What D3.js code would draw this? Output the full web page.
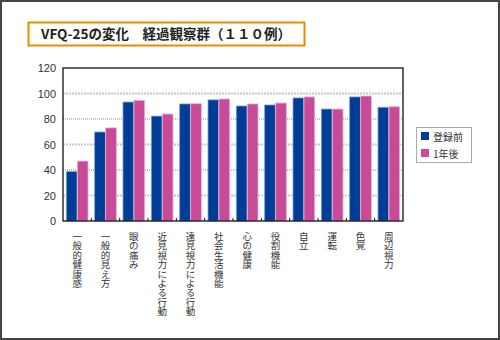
<!DOCTYPE html>
<html><head><meta charset="utf-8">
<script src="https://cdn.jsdelivr.net/npm/d3@7"></script>
<style>body{margin:0;background:#fff}svg{display:block}</style>
</head><body>
<svg id="c" width="500" height="340"></svg>
<script>
const categories = ["一般的健康感","一般的見え方","眼の痛み","近見視力による行動","遠見視力による行動","社会生活機能","心の健康","役割機能","自立","運転","色覚","周辺視力"];
const seriesNames = ["登録前","1年後"];
const before = [38.7,69.8,93.3,82.3,91.8,95.0,90.2,91.0,96.5,87.8,97.3,89.2];
const after  = [47.0,73.0,94.6,83.9,92.0,95.7,91.8,92.5,97.3,87.8,98.0,89.6];
const yTicks = [0,20,40,60,80,100,120];
const title = "VFQ-25の変化　経過観察群（１１０例）";

const svg = d3.select("#c");
const colors = ["#003d96","#c84b97"];
const strokes = ["#7f9fd0","#eab0d2"];
const jp = "'Noto Sans CJK JP', sans-serif";

svg.append("rect").attr("x",1).attr("y",1).attr("width",498).attr("height",338)
  .attr("fill","#fff").attr("stroke","#444").attr("stroke-width",2);

// title
svg.append("rect").attr("x",28.5).attr("y",22.5).attr("width",276).attr("height",23)
  .attr("fill","#fff").attr("stroke","#ef8a00").attr("stroke-width",2);
svg.append("text").attr("x",166).attr("y",39).attr("text-anchor","middle")
  .attr("font-family",jp).attr("font-weight","bold").attr("font-size",13.5).attr("fill","#222")
  .text(title);

const L=63,R=403,T=68,B=221;
const x = d3.scaleBand().domain(categories).range([L,R]).paddingInner(0.235).paddingOuter(0.1175);
const y = d3.scaleLinear().domain([0,120]).range([B,T]);

// grid
yTicks.filter(t=>t>0&&t<120).forEach(t=>{
  const light = (t/20)%2===1;
  svg.append("line").attr("x1",L).attr("x2",R).attr("y1",y(t)).attr("y2",y(t))
    .attr("stroke", light?"#c8c8c8":"#8a8a8a").attr("stroke-width", light?2:1)
    .attr("stroke-dasharray", light?"2,1":"1,1");
});

// bars
const inner = d3.scaleBand().domain([0,1]).range([0,x.bandwidth()]).paddingInner(0.03);
const g = svg.append("g");
[before,after].forEach((vals,si)=>{
  g.selectAll(".b"+si).data(categories).enter().append("rect")
    .attr("x",d=>x(d)+inner(si)).attr("width",inner.bandwidth())
    .attr("y",(d,i)=>y(vals[i])).attr("height",(d,i)=>B-y(vals[i]))
    .attr("fill",colors[si]).attr("stroke",strokes[si]).attr("stroke-width",0.8);
});

// frame
svg.append("rect").attr("x",L).attr("y",T).attr("width",R-L).attr("height",B-T)
  .attr("fill","none").attr("stroke","#111").attr("stroke-width",1.3);

// band boundary ticks
const step = x.step();
d3.range(1,categories.length).forEach(i=>{
  const xx = L + step*i;
  svg.append("line").attr("x1",xx).attr("x2",xx).attr("y1",B).attr("y2",B-3)
    .attr("stroke","#111").attr("stroke-width",1);
});

// y labels
yTicks.forEach(t=>{
  svg.append("text").attr("x",56).attr("y",y(t)+4).attr("text-anchor","end")
    .attr("font-family","'Liberation Sans', Arial, sans-serif").attr("font-size",11).attr("fill","#333")
    .text(t);
});

// category labels (vertical, one glyph per line)
categories.forEach(c=>{
  const t = svg.append("text").attr("font-family",jp).attr("font-size",9.5).attr("fill","#333")
    .attr("text-anchor","middle");
  Array.from(c).forEach((ch,i)=>{
    t.append("tspan").attr("x",x(c)+x.bandwidth()/2).attr("y",240+i*9.4).text(ch);
  });
});

// legend
svg.append("rect").attr("x",416.5).attr("y",127.5).attr("width",55).attr("height",35)
  .attr("fill","#fff").attr("stroke","#aaa").attr("stroke-width",1);
seriesNames.forEach((n,i)=>{
  svg.append("rect").attr("x",421).attr("y",132+i*17).attr("width",8).attr("height",8).attr("fill",colors[i]);
  svg.append("text").attr("x",433).attr("y",140.5+i*17).attr("font-family",jp).attr("font-size",10)
    .attr("fill","#333").text(n);
});
</script>
</body></html>
